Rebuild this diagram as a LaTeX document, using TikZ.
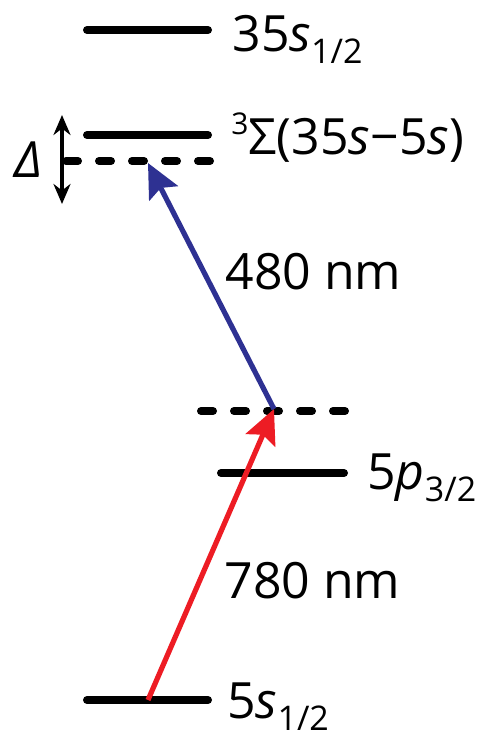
\documentclass[tikz,border=0pt]{standalone}
\usepackage{fontspec}
\setmainfont{Open Sans}
\usetikzlibrary{arrows.meta}
\definecolor{laserred}{RGB}{237,28,36}
\definecolor{laserblue}{RGB}{46,49,146}
\newcommand{\lvsub}[1]{\raisebox{-6pt}{\fontsize{17pt}{17pt}\selectfont #1}}
\newcommand{\lvsup}[1]{\raisebox{10pt}{\fontsize{15pt}{15pt}\selectfont #1}}
\begin{document}
\begin{tikzpicture}[x=0.5pt,y=-0.5pt,
    level/.style={line width=4pt,line cap=round},
    virtual/.style={line width=4pt,line cap=round,dash pattern=on 6pt off 10.5pt},
    photon/.style={line width=2.6pt,-{Stealth[length=17pt,width=16pt,inset=3pt]}},
    lvltxt/.style={anchor=base west,inner sep=0pt,font=\fontsize{25pt}{30pt}\selectfont}]
  \useasboundingbox (0,0) rectangle (490,738);

  % levels
  \draw[level] (87,30) -- (208,30);
  \draw[level] (87,135) -- (208,135);
  \draw[virtual] (66,161) -- (210,161);
  \draw[virtual] (201,411) -- (345,411);
  \draw[level] (221,473) -- (344,473);
  \draw[level] (87,700) -- (208,700);

  \node[lvltxt] (t35s) at (232,52) {35\textit{s}\lvsub{1/2}};
  \node[lvltxt] (tsig) at (231,155) {\lvsup{3}Σ(35\textit{s}−5\textit{s})};
  \node[lvltxt] (t5p) at (367,489) {5\textit{p}\lvsub{3/2}};
  \node[lvltxt] (t5s) at (227,718) {5\textit{s}\lvsub{1/2}};

  % detuning
  \coordinate (dtop) at (62,115);
  \coordinate (dbot) at (62,204);
  \draw[line width=1.6pt,{Stealth[length=10pt,width=8.5pt]}-{Stealth[length=10pt,width=8.5pt]}]
    (dtop) -- (dbot);
  \node[font=\fontsize{25pt}{30pt}\selectfont] (delta) at (29,160) {\textit{Δ}};

  % excitation
  \coordinate (ground) at (148,700);
  \coordinate (inter) at (274,409);
  \coordinate (ryd) at (148,163);
  \draw[photon,laserred] (ground) -- (inter);
  \draw[photon,laserblue] (inter) -- (ryd);
  \node[lvltxt] (l480) at (225,289) {480 nm};
  \node[lvltxt] (l780) at (224,598) {780 nm};
\end{tikzpicture}
\end{document}
